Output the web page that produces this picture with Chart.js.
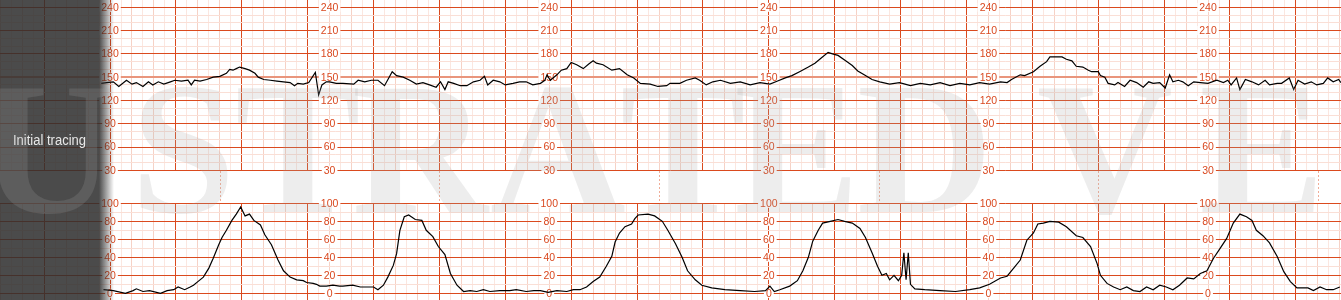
<!DOCTYPE html>
<html>
<head>
<meta charset="utf-8">
<script src="https://cdn.jsdelivr.net/npm/chart.js@4.4.1/dist/chart.umd.min.js"></script>
<style>
  html, body { margin: 0; padding: 0; background: #fff; }
  #wrap { position: relative; width: 1341px; height: 300px; }
</style>
</head>
<body>
<div id="wrap"><canvas id="ctg"></canvas></div>
<script>
// fetal heart rate, time in seconds from the first label column
const fhrTime = [-8,-3,3,8,15,20,24,30,35,39,44,49,55,59,65,71,74,77,82,88,94,100,106,109,112,115,118,123,127,132,135,140,146,152,158,164,168,171,176,181,187,190,193,197,
  200,206,212,222,226,232,238,244,250,257,261,267,273,279,285,291,297,301,305,308,313,319,325,331,337,341,344,349,355,360,367,373,379,385,392,396,398,
  401,407,411,416,420,425,431,436,440,443,449,457,464,471,477,483,492,499,507,510,519,525,533,537,543,549,556,565,574,583,592,
  601,608,615,621,628,636,642,648,654,658,663,669,676,681,688,694,701,710,719,729,738,747,756,765,774,783,792,
  801,811,817,821,829,833,841,847,853,856,862,867,871,876,880,886,891,894,900,902,906,909,915,918,924,929,935,941,946,950,956,961,965,968,973,977,982,987,993,
  1000,1008,1014,1018,1021,1026,1029,1034,1040,1046,1052,1056,1063,1067,1074,1078,1082,1088,1094,1099,1105,1109,1114,1119,1121];
const fhrBpm = [142,143,144,138,146,141,143,138,144,140,144,141,144,146,145,146,140,146,145,147,150,151,155,160,159,161,163,161,159,155,150,147,146,145,144,143,139,142,141,143,156,127,140,144,
  144,142,142,141,146,144,146,146,139,157,152,150,146,141,143,140,137,144,134,144,142,139,139,144,146,151,140,146,144,140,142,144,144,140,142,146,153,
  146,153,159,161,169,166,161,167,171,168,166,159,161,153,149,142,141,138,139,142,142,146,149,146,140,144,146,142,144,140,143,
  141,145,149,152,157,163,168,175,182,180,178,172,165,158,152,147,144,141,143,139,142,140,143,139,142,140,143,
  141,144,143,147,153,152,157,164,170,176,176,176,173,171,164,163,159,157,157,152,150,142,140,143,138,146,143,137,144,142,143,136,153,144,146,144,139,144,143,
  142,146,143,146,140,149,134,147,144,140,146,140,142,142,149,134,146,141,144,140,142,149,144,147,143];

// uterine activity
const ucTime = [-6,3,14,21,24,30,36,46,52,58,62,68,73,76,80,85,90,94,99,102,106,111,115,119,123,127,131,137,141,147,153,158,164,170,176,179,185,188,191,197,
  203,209,212,221,228,240,244,249,253,258,261,264,268,272,278,284,288,294,299,305,310,316,322,328,334,340,346,355,364,370,379,386,392,399,
  407,416,422,428,434,440,446,452,457,460,464,469,475,478,481,490,496,503,508,515,521,526,533,539,548,560,574,587,597,
  601,605,610,619,626,631,636,640,645,649,656,663,669,676,683,688,694,699,703,707,710,714,718,721,723,725,727,729,733,742,756,770,783,792,
  801,811,817,823,829,835,841,845,850,856,864,871,880,886,893,899,902,908,914,920,926,932,938,944,950,956,962,968,974,981,987,993,999,
  1005,1011,1017,1023,1029,1035,1040,1044,1050,1056,1063,1069,1075,1081,1091,1096,1102,1108,1114,1120];
const ucValue = [4,3,0,3,5,2,3,0,3,4,7,4,7,9,13,18,28,39,54,62,70,81,88,96,86,88,81,76,65,54,37,25,18,15,14,12,11,10,8,8,
  9,8,8,9,7,7,4,9,18,31,44,70,85,87,82,81,70,63,52,43,22,9,2,3,2,4,2,3,3,4,2,3,3,1,
  3,2,4,4,7,13,18,30,41,57,67,74,77,83,87,88,86,80,70,55,40,25,15,9,6,4,3,2,3,
  8,2,4,8,14,25,40,58,70,78,80,82,80,78,72,62,45,30,20,22,15,20,14,20,45,15,45,10,5,4,3,2,4,6,
  10,17,19,28,37,59,67,77,78,80,79,74,64,62,52,33,20,11,7,4,7,3,2,7,4,9,7,4,9,17,16,22,25,
  39,50,61,78,88,85,81,70,64,56,41,24,13,6,6,3,7,4,4,7];

const fhrTicks = [240, 210, 180, 150, 120, 90, 60, 30];
const ucTicks = [100, 80, 60, 40, 20, 0];
const labelTimes = [0, 200, 400, 600, 800, 1000];
const rowLabel = 'Initial tracing';

const RED = '#da4a1e';
const LABEL_RED = '#d9481f';

function stepTicks(from, to, step) {
  const out = [];
  for (let v = from; v <= to; v += step) out.push({ value: v });
  return out;
}

const paperPlugin = {
  id: 'paper',
  beforeDatasetsDraw(chart) {
    const { ctx, chartArea, scales } = chart;
    const xs = scales.x, yF = scales.yF, yU = scales.yU;
    const top = Math.floor(yF.getPixelForValue(30)) + 1;
    const bottom = Math.floor(yU.getPixelForValue(100));
    ctx.save();
    // blank band between the two strips
    ctx.fillStyle = '#fff';
    ctx.fillRect(chartArea.left, top, chartArea.right - chartArea.left, bottom - top);
    ctx.strokeStyle = '#f0ad98';
    ctx.lineWidth = 1;
    ctx.setLineDash([2, 2]);
    for (let i = 0; i < labelTimes.length; i++) {
      const x = Math.round(xs.getPixelForValue(labelTimes[i] + 100)) + 0.5;
      ctx.beginPath();
      ctx.moveTo(x, top);
      ctx.lineTo(x, bottom);
      ctx.stroke();
    }
    ctx.setLineDash([]);

    // repeated scale labels
    ctx.font = '10.5px "Liberation Sans", Arial, sans-serif';
    ctx.textAlign = 'center';
    ctx.textBaseline = 'middle';
    const drawLabels = (scale, ticks) => {
      labelTimes.forEach(t => {
        const x = xs.getPixelForValue(t);
        ticks.forEach(v => {
          const y = scale.getPixelForValue(v);
          const txt = String(v);
          const w = ctx.measureText(txt).width;
          ctx.fillStyle = '#fff';
          ctx.fillRect(x - w / 2 - 2, y - 4.5, w + 4, 9);
          ctx.fillStyle = LABEL_RED;
          ctx.fillText(txt, x, y + 0.5);
        });
      });
    };
    drawLabels(yF, fhrTicks);
    drawLabels(yU, ucTicks);
    ctx.restore();
  },
  afterDraw(chart) {
    const { ctx, height } = chart;
    ctx.save();
    // dark side panel
    ctx.fillStyle = 'rgba(45,45,45,0.86)';
    ctx.fillRect(0, 0, 99, height);
    const g = ctx.createLinearGradient(99, 0, 114, 0);
    g.addColorStop(0, 'rgba(45,45,45,0.86)');
    g.addColorStop(1, 'rgba(45,45,45,0)');
    ctx.fillStyle = g;
    ctx.fillRect(99, 0, 15, height);

    // row caption
    ctx.font = '14px "Liberation Sans", Arial, sans-serif';
    ctx.fillStyle = '#e8e8e8';
    ctx.textBaseline = 'middle';
    ctx.textAlign = 'center';
    const w = ctx.measureText(rowLabel).width;
    ctx.translate(49.5, 141);
    ctx.scale(73 / w, 1);
    ctx.fillText(rowLabel, 0, 0);
    ctx.setTransform(1, 0, 0, 1, 0, 0);

    // faint watermark
    ctx.font = 'bold 188px "Liberation Serif", "DejaVu Serif", serif';
    ctx.fillStyle = 'rgba(165,165,165,0.2)';
    ctx.textBaseline = 'alphabetic';
    ctx.textAlign = 'center';
    [['U', 48], ['S', 183], ['T', 298], ['R', 420], ['A', 558], ['T', 683], ['E', 797], ['D', 925], ['V', 1105], ['E', 1262]]
      .forEach(([ch, x]) => ctx.fillText(ch, x, 212));
    ctx.restore();
  }
};

new Chart(document.getElementById('ctg'), {
  type: 'line',
  data: {
    datasets: [{
      label: 'FHR',
      data: fhrTime.map((t, i) => ({ x: t, y: fhrBpm[i] })),
      yAxisID: 'yF',
      borderColor: '#000',
      borderWidth: 1.2,
      pointRadius: 0,
      tension: 0
    }, {
      label: 'UC',
      data: ucTime.map((t, i) => ({ x: t, y: ucValue[i] })),
      yAxisID: 'yU',
      borderColor: '#000',
      borderWidth: 1.2,
      pointRadius: 0,
      tension: 0
    }]
  },
  options: {
    responsive: true,
    maintainAspectRatio: false,
    animation: false,
    layout: { padding: 0 },
    plugins: { legend: { display: false }, tooltip: { enabled: false } },
    scales: {
      x: {
        type: 'linear',
        min: -100.2,
        max: 1121.1,
        afterBuildTicks: s => { s.ticks = stepTicks(-100, 1120, 10); },
        afterFit: s => { s.height = 0; },
        ticks: { display: false },
        border: { display: false },
        grid: {
          drawTicks: false,
          lineWidth: 1,
          color: c => c.tick.value % 60 === 0 ? RED : (c.tick.value % 20 === 0 ? '#f6d2c6' : '#fbe7e0')
        }
      },
      yF: {
        type: 'linear',
        position: 'left',
        min: -137.1,
        max: 249.4,
        afterBuildTicks: s => { s.ticks = stepTicks(30, 240, 10); },
        afterFit: s => { s.width = 0; },
        ticks: { display: false },
        border: { display: false },
        grid: {
          drawTicks: false,
          lineWidth: c => c.tick.value === 150 ? 2 : 1,
          color: c => c.tick.value === 150 ? '#e9957c' : (fhrTicks.includes(c.tick.value) ? RED : '#fadfd6')
        }
      },
      yU: {
        type: 'linear',
        position: 'left',
        min: -7.44,
        max: 325.9,
        afterBuildTicks: s => { s.ticks = stepTicks(0, 100, 10); },
        afterFit: s => { s.width = 0; },
        ticks: { display: false },
        border: { display: false },
        grid: {
          drawTicks: false,
          lineWidth: 1,
          color: c => ucTicks.includes(c.tick.value) ? RED : '#fadfd6'
        }
      }
    }
  },
  plugins: [paperPlugin]
});
</script>
</body>
</html>
